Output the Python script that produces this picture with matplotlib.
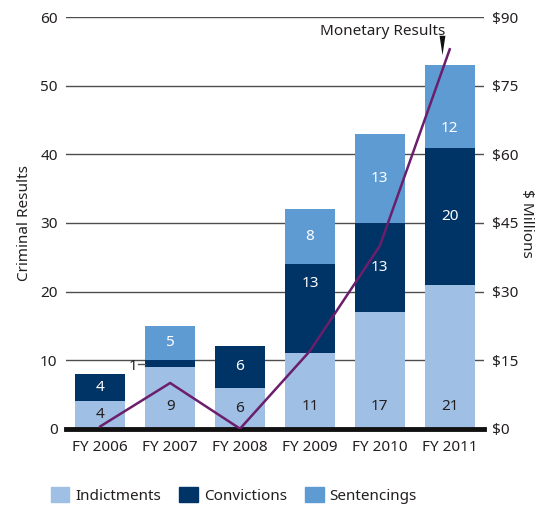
import numpy as np
import matplotlib
matplotlib.use("Agg")
from matplotlib import pyplot as plt
from matplotlib.patches import Patch

plt.rcParams["font.family"] = ["Noto Sans", "DejaVu Sans"]

years = ["FY 2006", "FY 2007", "FY 2008", "FY 2009", "FY 2010", "FY 2011"]
indictments = [4, 9, 6, 11, 17, 21]
convictions = [4, 1, 6, 13, 13, 20]
sentencings = [0, 5, 0, 8, 13, 12]
monetary = [0.5, 10, 0, 17, 40, 83]  # $ millions

c_ind = "#a0bfe4"
c_conv = "#003466"
c_sent = "#5e9bd3"
c_line = "#6b1e6b"
txt = "#231f20"

fig = plt.figure(figsize=(5.44, 5.08), dpi=100)
ax = fig.add_axes([0.1213, 0.1561, 0.7684, 0.8099])
ax2 = ax.twinx()

x = np.arange(len(years))
w = 0.71
ind = np.array(indictments)
conv = np.array(convictions)
sent = np.array(sentencings)

ax.bar(x, ind, w, color=c_ind, zorder=2)
ax.bar(x, conv, w, bottom=ind, color=c_conv, zorder=2)
ax.bar(x, sent, w, bottom=ind + conv, color=c_sent, zorder=2)

# value labels
for i in range(len(years)):
    ax.text(x[i], min(ind[i] / 2, 3.2), str(ind[i]), ha="center", va="center",
            fontsize=11, color=txt, zorder=4)
    if conv[i] > 1:
        yc = ind[i] + conv[i] / 2
        if i == 3:
            yc = ind[i] + conv[i] * 0.78
        ax.text(x[i], yc, str(conv[i]), ha="center", va="center",
                fontsize=11, color="white", zorder=4)
    elif conv[i] == 1:
        # segment too thin, label outside with a short leader
        yc = ind[i] + conv[i] / 2
        ax.text(x[i] - w / 2 - 0.17, yc - 0.4, str(conv[i]), ha="center", va="center",
                fontsize=11, color=txt, zorder=4)
        ax.plot([x[i] - w / 2 - 0.1, x[i] - w / 2], [yc, yc], color="#555555",
                lw=1, zorder=4)
    if sent[i] > 0:
        ys = ind[i] + conv[i] + sent[i] / 2
        if i == 5:
            ys = ind[i] + conv[i] + sent[i] * 0.23
        ax.text(x[i], ys, str(sent[i]), ha="center", va="center",
                fontsize=11, color="white", zorder=4)

ax.set_xlim(-0.49, 5.49)
ax.set_ylim(0, 60)
ax.set_yticks(range(0, 61, 10))
ax.yaxis.grid(True, color="#4d4d4d", lw=1)
ax.set_axisbelow(True)
ax.tick_params(axis="y", length=0, pad=6, labelsize=11, colors=txt)
ax.tick_params(axis="x", length=0, pad=8, labelsize=11, colors=txt)
ax.set_xticks(x)
ax.set_xticklabels(years)
ax.set_ylabel("Criminal Results", fontsize=11, color=txt, labelpad=6)
for s in ax.spines.values():
    s.set_visible(False)
ax.axhline(0, color="#111111", lw=3.5, zorder=3, clip_on=False)

ax2.plot(x, monetary, color=c_line, lw=1.8, zorder=5)
ax2.set_ylim(0, 90)
ax2.set_yticks(range(0, 91, 15))
ax2.set_yticklabels(["$%d" % v for v in range(0, 91, 15)])
ax2.tick_params(axis="y", length=0, pad=6, labelsize=11, colors=txt)
ax2.set_ylabel("$ Millions", fontsize=11, color=txt, rotation=-90, labelpad=11)
for s in ax2.spines.values():
    s.set_visible(False)

ax2.text(x[4] + 0.04, 86.8, "Monetary Results", ha="center", va="center",
         fontsize=11, color=txt)
pointer = [(-0.3, 1), (0.3, 1), (0, -1), (-0.3, 1)]
ax2.plot([x[5] - 0.114], [84.0], marker=pointer, ms=14, color="#111111",
         markeredgewidth=0, clip_on=False)

handles = [Patch(color=c_ind, label="Indictments"),
           Patch(color=c_conv, label="Convictions"),
           Patch(color=c_sent, label="Sentencings")]
fig.legend(handles=handles, loc="center left", bbox_to_anchor=(0.068, 0.025),
           ncol=3, frameon=False, fontsize=11, handlelength=1.2, handleheight=1.2,
           handletextpad=0.4, columnspacing=1.2, labelcolor=txt)

fig.savefig("out.png", dpi=100)
